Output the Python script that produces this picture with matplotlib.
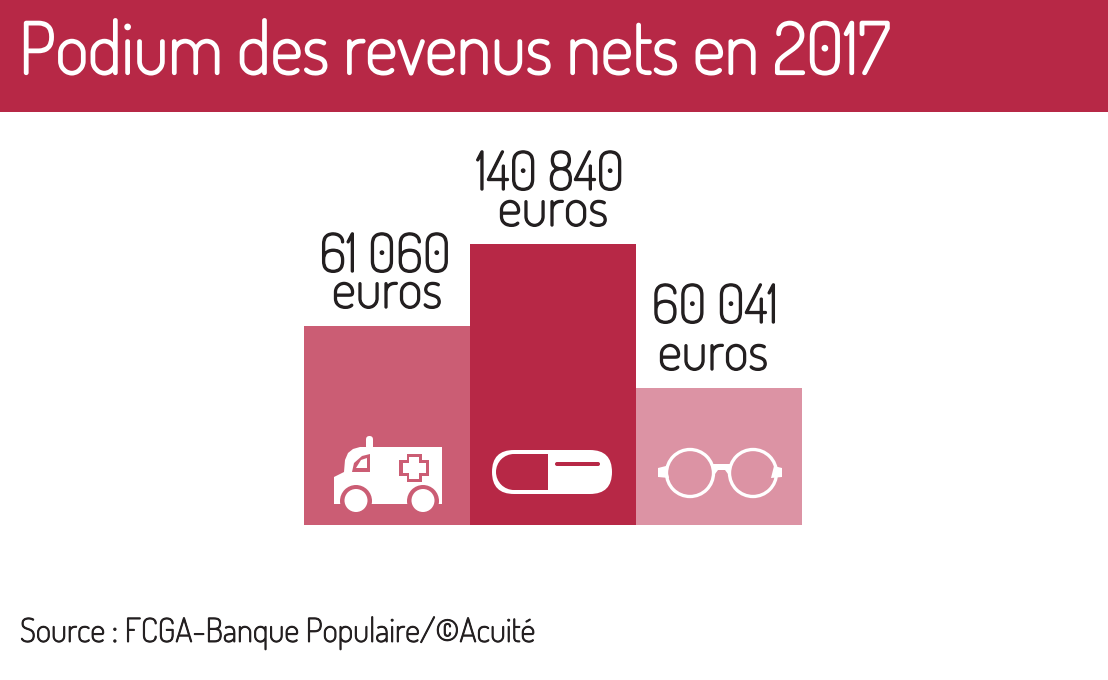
import matplotlib
matplotlib.use("Agg")
import matplotlib.pyplot as plt
import matplotlib.patheffects as pe
from matplotlib import font_manager as fm
from matplotlib.patches import Rectangle, Circle, Polygon, FancyBboxPatch, Wedge

title = "Podium des revenus nets en 2017"
source = "Source : FCGA-Banque Populaire/©Acuité"
amounts = ["61 060", "140 840", "60 041"]
units = ["euros", "euros", "euros"]
#bars are not to scale in the original, heights are read from the picture (px)
bar_heights = [199, 281, 137]
bar_positions = [0, 1, 2]
bar_colors = ["#CB5D74", "#B72846", "#DC93A4"]

RED = "#B72846"
TEXT = "#231F20"

#Dosis is the closest face but not on the documented font list, Lato at a smaller size otherwise
have_dosis = any(f.name == "Dosis" for f in fm.fontManager.ttflist)
plt.rcParams["font.family"] = ["Dosis", "Lato"] if have_dosis else ["Lato"]
scale = 1.0 if have_dosis else 0.72

#the font loads at its lightest weight, a thin stroke brings it up to the original
def bold(color, width):
    return [pe.withStroke(linewidth=width if have_dosis else 0, foreground=color)]

fig = plt.figure(figsize=(11.08, 6.8), dpi=100, facecolor="white")

#full figure axes in pixels for banner, labels and icons
bg = fig.add_axes([0, 0, 1, 1])
bg.set_xlim(0, 1108)
bg.set_ylim(680, 0)
bg.axis("off")
bg.add_patch(Rectangle((0, 0), 1108, 112, color=RED, lw=0))
bg.text(19, 74, title, color="white", fontsize=51.4*scale, va="baseline", ha="left",
        path_effects=bold("white", 1.6))
bg.text(20, 642, source, color=TEXT, fontsize=23.8*scale, va="baseline", ha="left",
        path_effects=bold(TEXT, 0.7))

#bars
ax = fig.add_axes([304/1108, (680-525)/680, 498/1108, 300/680], zorder=1)
ax.set_xlim(-0.5, 2.5)
ax.set_ylim(0, 300)
ax.axis("off")
ax.patch.set_alpha(0)
ax.bar(bar_positions, bar_heights, width=1.0, color=bar_colors, lw=0)

amount_shift = [-2, -3, -4]
unit_shift = [0, 0, -6]
amount_rise = [54, 54, 65]
for i, x in enumerate(bar_positions):
    h = bar_heights[i]
    ax.annotate(units[i], (x, h), xytext=(unit_shift[i], 18), textcoords="offset pixels", ha="center",
                va="baseline", fontsize=38.5*scale, color=TEXT, path_effects=bold(TEXT, 1.0))
    ax.annotate(amounts[i], (x, h), xytext=(amount_shift[i], amount_rise[i]), textcoords="offset pixels",
                ha="center", va="baseline", fontsize=38.5*scale, color=TEXT, path_effects=bold(TEXT, 1.0))

#icons on top, still in pixel coordinates
ic = fig.add_axes([0, 0, 1, 1], zorder=2)
ic.set_xlim(0, 1108)
ic.set_ylim(680, 0)
ic.axis("off")
ic.patch.set_alpha(0)

#ambulance
amb = bar_colors[0]
ic.add_patch(FancyBboxPatch((366, 436), 7, 14, boxstyle="round,pad=0,rounding_size=3.5", color="white", lw=0))
ic.add_patch(Polygon([(334, 504), (334, 477), (344, 472), (345, 460), (348, 453), (353, 449), (360, 447),
                      (442, 447), (442, 504)], color="white", lw=0))
ic.add_patch(Polygon([(352, 472), (370, 472), (370, 454), (362, 456), (354, 463)], color=amb, lw=0))
ic.add_patch(Polygon([(356, 468), (367, 468), (367, 458), (361, 460)], color="white", lw=0))
ic.add_patch(Polygon([(407, 454), (422, 454), (422, 460), (429, 460), (429, 476), (422, 476), (422, 482),
                      (407, 482), (407, 476), (399, 476), (399, 460), (407, 460)], color=amb, lw=0))
ic.add_patch(Polygon([(409, 457), (419, 457), (419, 463), (426, 463), (426, 473), (419, 473), (419, 479),
                      (409, 479), (409, 473), (403, 473), (403, 463), (409, 463)], color="white", lw=0))
for cx in (356, 423):
    ic.add_patch(Rectangle((cx-17, 504), 34, 12, color=amb, lw=0))
    ic.add_patch(Circle((cx, 501), 16, color=amb, lw=0))
    ic.add_patch(Circle((cx, 500.5), 11.5, color="white", lw=0))

#pill
ic.add_patch(FancyBboxPatch((492, 450), 120, 44, boxstyle="round,pad=0,rounding_size=22", color="white", lw=0))
ic.add_patch(Wedge((514, 472), 18, 90, 270, color=RED, lw=0))
ic.add_patch(Rectangle((514, 454), 34, 36, color=RED, lw=0))
ic.add_patch(FancyBboxPatch((555, 462), 45, 4, boxstyle="round,pad=0,rounding_size=2", color=RED, lw=0))

#glasses
for cx in (690, 753):
    ic.add_patch(Circle((cx, 473), 23.5, fc="none", ec="white", lw=2.4))
ic.add_patch(Polygon([(658, 468), (666, 466), (669, 478), (658, 477)], color="white", lw=0))
ic.add_patch(Polygon([(782, 468), (774, 466), (771, 478), (782, 477)], color="white", lw=0))
ic.add_patch(Polygon([(711, 464), (732, 464), (728, 474), (725, 470), (718, 470), (715, 474)], color="white", lw=0))

fig.savefig("out.png", dpi=100)
